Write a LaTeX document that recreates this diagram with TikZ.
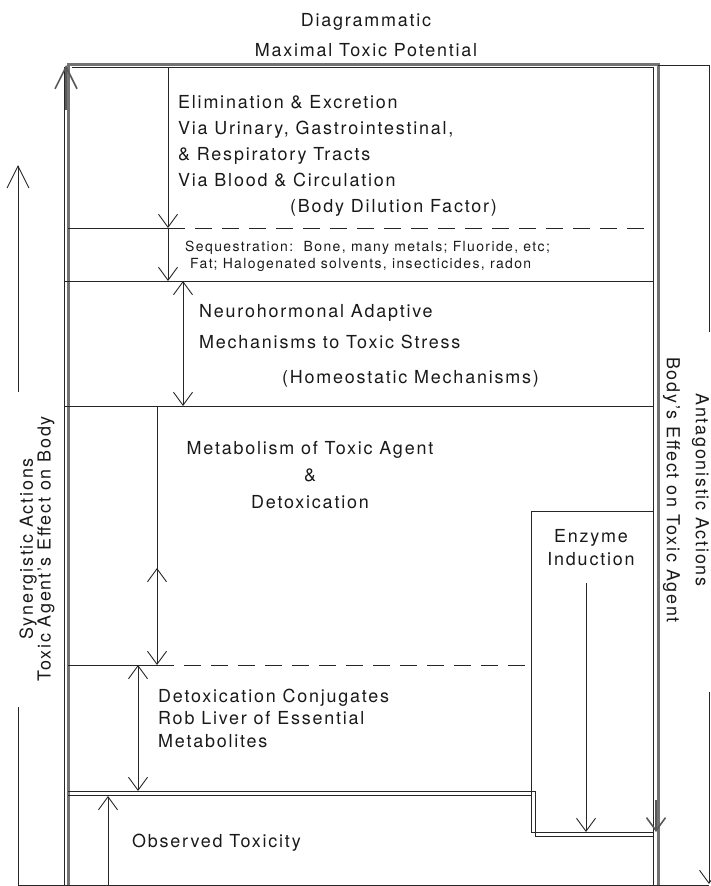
\documentclass[tikz,border=0pt]{standalone}
\usepackage{fontspec}
\setmainfont[LetterSpace=10]{TeX Gyre Heros}
\usetikzlibrary{arrows.meta}

\begin{document}
\begin{tikzpicture}[x=1bp,y=-1bp,>={Straight Barb[length=13bp,width=19bp]},
  thin line/.style={draw=black!85,line width=0.9bp},
  frame line/.style={draw=black!55,line width=3bp},
  dash line/.style={thin line,dash pattern=on 17bp off 10bp},
  big tip/.style={>={Straight Barb[length=22bp,width=22bp]}},
  layer text/.style={font=\fontsize{18}{26}\selectfont,text=black!90,
    inner sep=0pt,align=left,anchor=base west},
  small text/.style={layer text,font=\fontsize{14}{17}\selectfont}]

  \useasboundingbox (0,0) rectangle (711,886);

  % levels of the diagram
  \coordinate (top) at (168,67);
  \coordinate (elim) at (168,228);
  \coordinate (seq) at (168,281);
  \coordinate (neuro top) at (183,281);
  \coordinate (neuro bot) at (183,406);
  \coordinate (metab top) at (157,406);
  \coordinate (metab bot) at (157,665);
  \coordinate (metab mid) at (157,568);
  \coordinate (conj top) at (138,665);
  \coordinate (conj bot) at (138,791);
  \coordinate (obs top) at (108,796);
  \coordinate (obs bot) at (108,885);
  \coordinate (enz top) at (586,583);
  \coordinate (enz bot) at (586,832);

  % outer frame
  \draw[frame line] (68,885) -- (68,64) -- (658,64) -- (658,885);
  \draw[thin line] (64,885) -- (64,67);
  \draw[thin line] (72,67) -- (653,67) -- (653,885);
  \draw[thin line] (18,885) -- (709,885);
  \draw[thin line,->,big tip,line width=1.6bp,draw=black!65] (66,110) -- (66,65);
  \draw[thin line,->,line width=1.6bp,draw=black!65] (656,800) -- (656,832);

  % side brackets
  \draw[thin line,->,big tip] (18,392) -- (18,165);
  \draw[thin line] (18,707) -- (18,885);
  \draw[thin line] (658,65) -- (709,65) -- (709,332);
  \draw[thin line,->] (709,692) -- (709,884);

  % layers
  \draw[thin line] (68,228) -- (elim);
  \draw[dash line] (elim) -- (653,228);
  \draw[thin line] (64,281) -- (653,281);
  \draw[thin line] (64,406) -- (653,406);
  \draw[thin line] (68,665) -- (metab bot);
  \draw[dash line] (metab bot) -- (531,665);
  \draw[thin line] (653,511) -- (531,511) -- (531,832) -- (653,832);
  \draw[thin line] (68,791) -- (535,791) -- (535,836) -- (653,836);
  \draw[thin line] (68,795) -- (531,795);

  % arrows
  \draw[thin line,->] (top) -- (elim);
  \draw[thin line,->] (elim) -- (seq);
  \draw[thin line,<->] (neuro top) -- (neuro bot);
  \draw[thin line,->] (metab top) -- (metab bot);
  \draw[thin line,->] (157,610) -- (metab mid);
  \draw[thin line,<->] (conj top) -- (conj bot);
  \draw[thin line,->] (obs bot) -- (obs top);
  \draw[thin line,->] (enz top) -- (enz bot);

  % texts (base anchor sits on the last line)
  \node[layer text,align=center,anchor=base] (title) at (366,56)
    {Diagrammatic\\[4bp]Maximal Toxic Potential};
  \node[layer text] (elim text) at (178,212)
    {Elimination \& Excretion\\Via Urinary, Gastrointestinal,\\
     \& Respiratory Tracts\\Via Blood \& Circulation\\
     \hspace*{112bp}(Body Dilution Factor)};
  \node[small text] (seq text) at (185,268)
    {Sequestration:\ \ Bone, many metals; Fluoride, etc;\\
     \hspace*{5bp}Fat; Halogenated solvents, insecticides, radon};
  \node[layer text,font=\fontsize{18}{31}\selectfont] (neuro text) at (199,383)
    {Neurohormonal Adaptive\\Mechanisms to Toxic Stress\\[4bp]
     \hspace*{83bp}(Homeostatic Mechanisms)};
  \node[layer text,align=center,anchor=base,font=\fontsize{18}{27}\selectfont]
    (metab text) at (310,508) {Metabolism of Toxic Agent\\\&\\Detoxication};
  \node[layer text,align=center,anchor=base,font=\fontsize{18}{23}\selectfont]
    (enz text) at (591,565) {Enzyme\\Induction};
  \node[layer text,font=\fontsize{18}{22.5}\selectfont] (conj text) at (158,747)
    {Detoxication Conjugates\\Rob Liver of Essential\\Metabolites};
  \node[layer text] (obs text) at (132,847) {Observed Toxicity};
  \node[layer text,align=center,anchor=center,rotate=90,
    font=\fontsize{18}{18}\selectfont] (syn text) at (37,549)
    {Synergistic Actions\\Toxic Agent's Effect on Body};
  \node[layer text,align=center,anchor=center,rotate=-90,
    font=\fontsize{18}{29}\selectfont] (ant text) at (686,490)
    {Antagonistic Actions\\Body's Effect on Toxic Agent};
\end{tikzpicture}
\end{document}
